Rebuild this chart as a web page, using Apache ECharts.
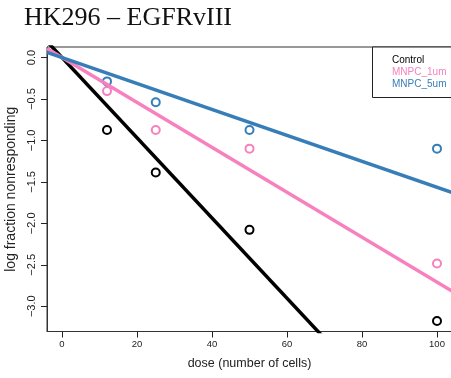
<!DOCTYPE html>
<html>
<head>
<meta charset="utf-8">
<script src="https://cdn.jsdelivr.net/npm/echarts@6/dist/echarts.min.js"></script>
<style>
  html, body { margin: 0; padding: 0; background: #fff; }
  #chart { width: 451px; height: 378px; }
</style>
</head>
<body>
<div id="chart"></div>
<script>
// data
const groups = ['Control', 'MNPC_1um', 'MNPC_5um']
const colors = ['#000000', '#F781BF', '#377EB8']
const doses = [12, 25, 50, 100]
const control = [-0.875, -1.386, -2.079, -3.178]
const mnpc1 = [-0.405, -0.875, -1.099, -2.485]
const mnpc5 = [-0.288, -0.539, -0.875, -1.099]
// fitted lines (through the origin): log fraction = slope * dose
const slopes = [-0.0484, -0.0271, -0.01565]
const fitX = [-4, 104]
const xTicks = [0, 20, 40, 60, 80, 100]
const yTicks = [0, -0.5, -1, -1.5, -2, -2.5, -3]

const chart = echarts.init(document.getElementById('chart'))
const values = [control, mnpc1, mnpc5]
const font = 'Liberation Sans'

const series = []
values.forEach((vals, i) => {
  series.push({
    name: groups[i],
    type: 'scatter',
    symbol: 'emptyCircle',
    symbolSize: 8,
    itemStyle: { color: colors[i], borderColor: colors[i], borderWidth: 1.3, opacity: 1 },
    data: doses.map((d, j) => [d, vals[j]])
  })
})
slopes.forEach((s, i) => {
  series.push({
    name: groups[i] + ' fit',
    type: 'line',
    symbol: 'none',
    clip: true,
    lineStyle: { color: colors[i], width: 3.5 },
    data: fitX.map(x => [x, s * x])
  })
})

const option = {
  animation: false,
  grid: {
    left: 47, top: 47, width: 405, height: 284.5,
    containLabel: false, outerBoundsMode: 'none',
    show: true, borderColor: '#333', borderWidth: 1, backgroundColor: 'transparent'
  },
  xAxis: {
    type: 'value', min: -4, max: 104,
    axisLine: { show: true, onZero: false, lineStyle: { color: '#333', width: 1 } },
    splitLine: { show: false },
    axisTick: { show: true, length: 6, customValues: xTicks, lineStyle: { color: '#222', width: 1 } },
    axisLabel: { customValues: xTicks, fontSize: 9.5, color: '#222', margin: 8, fontFamily: font },
    name: 'dose (number of cells)',
    nameLocation: 'middle', nameGap: 26,
    nameTextStyle: { fontSize: 12.5, color: '#222', fontFamily: font }
  },
  yAxis: {
    type: 'value', min: -3.305, max: 0.127,
    axisLine: { show: true, onZero: false, lineStyle: { color: '#333', width: 1 } },
    splitLine: { show: false },
    axisTick: { show: true, length: 6, customValues: yTicks, lineStyle: { color: '#222', width: 1 } },
    axisLabel: {
      customValues: yTicks, rotate: 90, fontSize: 11, color: '#222', margin: 10, fontFamily: font,
      formatter: v => (v === 0 ? '0.0' : '\u2212' + Math.abs(v).toFixed(1))
    },
    name: 'log fraction nonresponding',
    nameLocation: 'middle', nameRotate: 90, nameGap: 25,
    nameTextStyle: { fontSize: 14, color: '#222', fontFamily: font }
  },
  graphic: [
    {
      type: 'text', left: 24, top: 5,
      style: { text: 'HK296 \u2013 EGFRvIII', fontFamily: 'Liberation Serif', fontSize: 26, fill: '#111' }
    },
    {
      type: 'rect', shape: { x: 372.5, y: 47, width: 100, height: 50.5 },
      style: { fill: '#fff', stroke: '#222', lineWidth: 1 }, z: 100
    }
  ].concat(groups.map((g, i) => ({
    type: 'text', x: 392, y: 60.7 + i * 11.7, z: 101,
    style: { text: g, fill: colors[i], fontSize: 10, fontFamily: font, verticalAlign: 'middle' }
  }))),
  series: series
}

chart.setOption(option)
</script>
</body>
</html>
